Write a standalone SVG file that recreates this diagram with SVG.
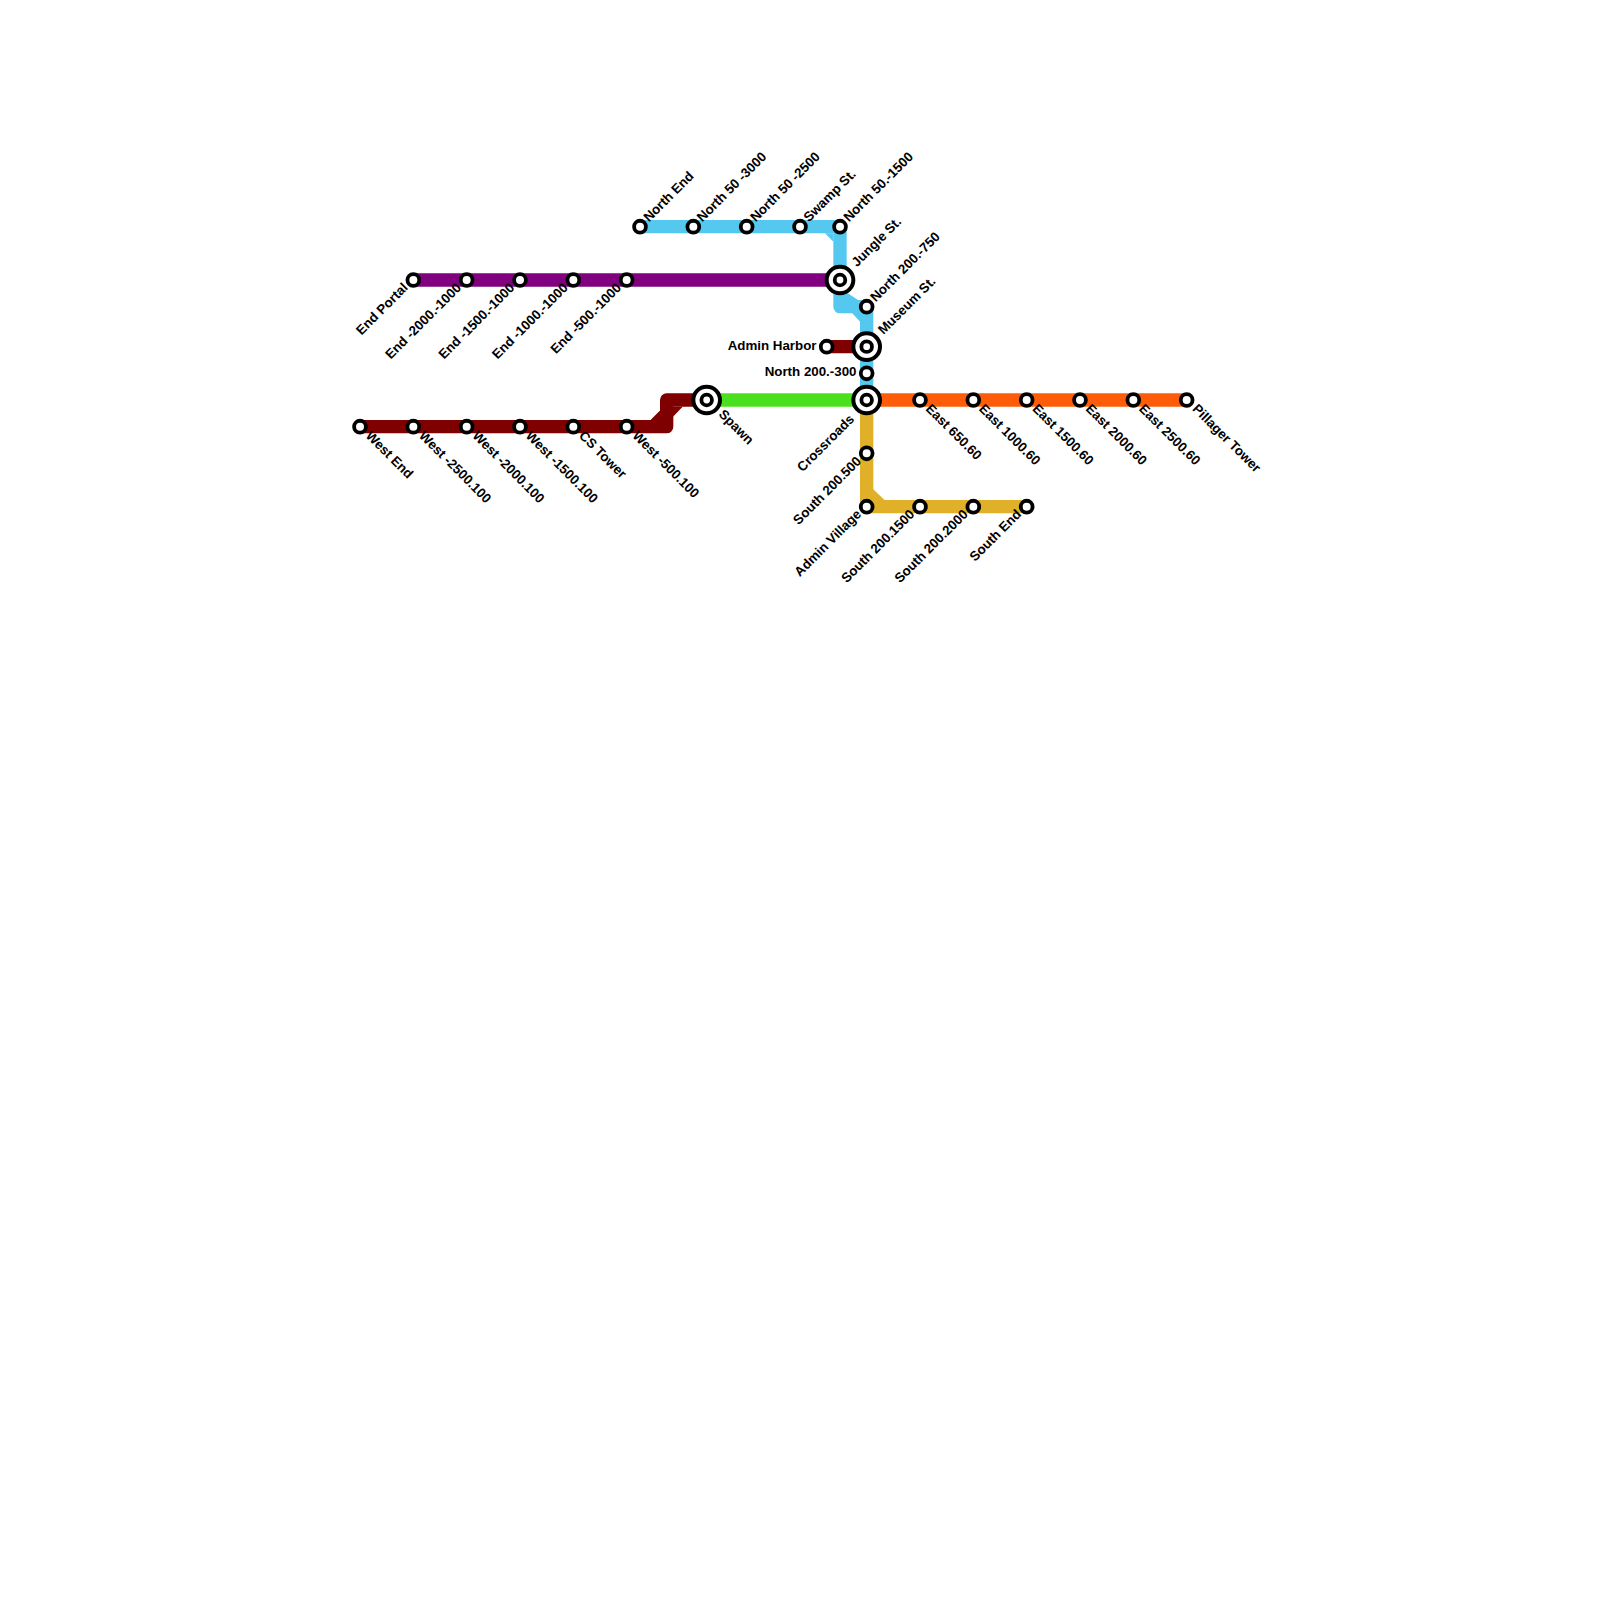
<svg xmlns="http://www.w3.org/2000/svg" width="1600" height="1600" viewBox="0 0 1600 1600">
<style>
.l{fill:none;stroke-width:13.33;stroke-linejoin:round;stroke-linecap:butt}
.s{fill:#fff;stroke:#000;stroke-width:3.8}
.o{fill:#fff;stroke:#000;stroke-width:4}
text{font-family:"Liberation Sans",Arial,sans-serif;font-weight:700;font-size:13.33px;fill:#000}
.e{text-anchor:end}
.blue{stroke:#55c8f0}.bf{fill:#55c8f0}
.red{stroke:#7f0000}.rf{fill:#7f0000}
.gold{stroke:#e0b028}.gf{fill:#e0b028}
</style>
<rect width="1600" height="1600" fill="#fff"/>
<g id="connectors">
<path class="l blue" d="M640,226.67H840V306.67H866.67V400"/>
<path class="bf" d="M825,233.3L833.33,241.7V233.3ZM846,292L858,300H846ZM852,313L860.3,322V313Z"/>
<path class="l" stroke="#800080" d="M413.33,280H840"/>
<path class="l red" d="M826.67,346.67H866.67"/>
<path class="l red" d="M360,426.67H666.67V400H706.67"/>
<path class="rf" d="M650,420.5L660.5,410V420.5ZM673,416.67L683.33,406V406.67H673Z"/>
<path class="l" stroke="#4be01e" d="M706.67,400H866.67"/>
<path class="l" stroke="#ff5c0a" d="M866.67,400H1186.67"/>
<path class="l gold" d="M866.67,400V506.67H1026.67"/>
<path class="gf" d="M873,489L885,500.5H873Z"/>
</g>
<g id="n-north-end"><circle class="s" cx="640" cy="226.67" r="5.9"/><text transform="translate(649,222.5) rotate(-45)">North End</text></g>
<g id="n-north-50-3000"><circle class="s" cx="693.33" cy="226.67" r="5.9"/><text transform="translate(702.33,222.5) rotate(-45)">North 50 -3000</text></g>
<g id="n-north-50-2500"><circle class="s" cx="746.67" cy="226.67" r="5.9"/><text transform="translate(755.67,222.5) rotate(-45)">North 50 -2500</text></g>
<g id="n-swamp"><circle class="s" cx="800" cy="226.67" r="5.9"/><text transform="translate(809,222.5) rotate(-45)">Swamp St.</text></g>
<g id="n-north-50-1500"><circle class="s" cx="840" cy="226.67" r="5.9"/><text transform="translate(849,222.5) rotate(-45)">North 50.-1500</text></g>
<g id="n-jungle"><circle class="o" cx="840" cy="280" r="13.33"/><circle class="s" cx="840" cy="280" r="5.3"/><text transform="translate(857,267.5) rotate(-45)">Jungle St.</text></g>
<g id="n-north-200-750"><circle class="s" cx="866.67" cy="306.67" r="5.9"/><text transform="translate(875.67,302.5) rotate(-45)">North 200.-750</text></g>
<g id="n-museum"><circle class="o" cx="866.67" cy="346.67" r="13.33"/><circle class="s" cx="866.67" cy="346.67" r="5.3"/><text transform="translate(883.5,335) rotate(-45)">Museum St.</text></g>
<g id="n-admin-harbor"><circle class="s" cx="826.67" cy="346.67" r="5.9"/><text class="e" x="816.5" y="350">Admin Harbor</text></g>
<g id="n-north-200-300"><circle class="s" cx="866.67" cy="373.33" r="5.9"/><text class="e" x="856.5" y="376">North 200.-300</text></g>
<g id="n-crossroads"><circle class="o" cx="866.67" cy="400" r="13.33"/><circle class="s" cx="866.67" cy="400" r="5.3"/><text class="e" transform="translate(855,420) rotate(-45)">Crossroads</text></g>
<g id="n-spawn"><circle class="o" cx="706.67" cy="400" r="13.33"/><circle class="s" cx="706.67" cy="400" r="5.3"/><text transform="translate(718,415) rotate(45)">Spawn</text></g>
<g id="n-east-650"><circle class="s" cx="920" cy="400" r="5.9"/><text transform="translate(925,409.5) rotate(45)">East 650.60</text></g>
<g id="n-east-1000"><circle class="s" cx="973.33" cy="400" r="5.9"/><text transform="translate(978.33,409.5) rotate(45)">East 1000.60</text></g>
<g id="n-east-1500"><circle class="s" cx="1026.67" cy="400" r="5.9"/><text transform="translate(1031.67,409.5) rotate(45)">East 1500.60</text></g>
<g id="n-east-2000"><circle class="s" cx="1080" cy="400" r="5.9"/><text transform="translate(1085,409.5) rotate(45)">East 2000.60</text></g>
<g id="n-east-2500"><circle class="s" cx="1133.33" cy="400" r="5.9"/><text transform="translate(1138.33,409.5) rotate(45)">East 2500.60</text></g>
<g id="n-pillager"><circle class="s" cx="1186.67" cy="400" r="5.9"/><text transform="translate(1191.67,409.5) rotate(45)">Pillager Tower</text></g>
<g id="n-south-500"><circle class="s" cx="866.67" cy="453.33" r="5.9"/><text class="e" transform="translate(862,462) rotate(-45)">South 200.500</text></g>
<g id="n-admin-village"><circle class="s" cx="866.67" cy="506.67" r="5.9"/><text class="e" transform="translate(862,515) rotate(-45)">Admin Village</text></g>
<g id="n-south-1500"><circle class="s" cx="920" cy="506.67" r="5.9"/><text class="e" transform="translate(915.33,515) rotate(-45)">South 200.1500</text></g>
<g id="n-south-2000"><circle class="s" cx="973.33" cy="506.67" r="5.9"/><text class="e" transform="translate(968.67,515) rotate(-45)">South 200.2000</text></g>
<g id="n-south-end"><circle class="s" cx="1026.67" cy="506.67" r="5.9"/><text class="e" transform="translate(1022,515) rotate(-45)">South End</text></g>
<g id="n-end-portal"><circle class="s" cx="413.33" cy="280" r="5.9"/><text class="e" transform="translate(408.67,288.5) rotate(-45)">End Portal</text></g>
<g id="n-end-2000"><circle class="s" cx="466.67" cy="280" r="5.9"/><text class="e" transform="translate(462,288.5) rotate(-45)">End -2000.-1000</text></g>
<g id="n-end-1500"><circle class="s" cx="520" cy="280" r="5.9"/><text class="e" transform="translate(515.33,288.5) rotate(-45)">End -1500.-1000</text></g>
<g id="n-end-1000"><circle class="s" cx="573.33" cy="280" r="5.9"/><text class="e" transform="translate(568.67,288.5) rotate(-45)">End -1000.-1000</text></g>
<g id="n-end-500"><circle class="s" cx="626.67" cy="280" r="5.9"/><text class="e" transform="translate(622,288.5) rotate(-45)">End -500.-1000</text></g>
<g id="n-west-end"><circle class="s" cx="360" cy="426.67" r="5.9"/><text transform="translate(365,436.5) rotate(45)">West End</text></g>
<g id="n-west-2500"><circle class="s" cx="413.33" cy="426.67" r="5.9"/><text transform="translate(418.33,436.5) rotate(45)">West -2500.100</text></g>
<g id="n-west-2000"><circle class="s" cx="466.67" cy="426.67" r="5.9"/><text transform="translate(471.67,436.5) rotate(45)">West -2000.100</text></g>
<g id="n-west-1500"><circle class="s" cx="520" cy="426.67" r="5.9"/><text transform="translate(525,436.5) rotate(45)">West -1500.100</text></g>
<g id="n-cs-tower"><circle class="s" cx="573.33" cy="426.67" r="5.9"/><text transform="translate(578.33,436.5) rotate(45)">CS Tower</text></g>
<g id="n-west-500"><circle class="s" cx="626.67" cy="426.67" r="5.9"/><text transform="translate(631.67,436.5) rotate(45)">West -500.100</text></g>
</svg>
